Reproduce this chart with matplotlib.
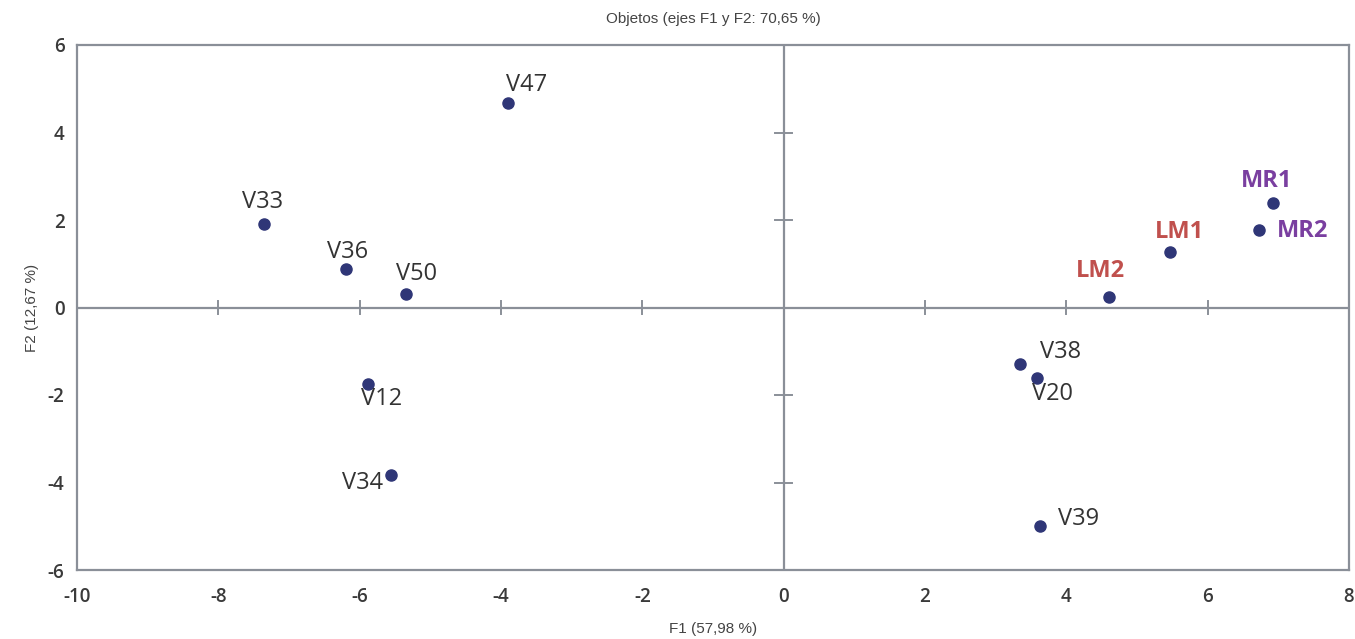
import matplotlib
matplotlib.use("Agg")
import matplotlib.pyplot as plt

plt.rcParams["axes.unicode_minus"] = False

names = ["V47", "V33", "V36", "V50", "V12", "V34", "V38", "V20", "V39", "LM2", "LM1", "MR1", "MR2"]
f1 = [-3.90, -7.36, -6.19, -5.35, -5.88, -5.55, 3.35, 3.59, 3.63, 4.60, 5.47, 6.92, 6.72]
f2 = [4.67, 1.92, 0.87, 0.30, -1.74, -3.82, -1.28, -1.62, -4.99, 0.25, 1.26, 2.38, 1.78]
xticks = [-10, -8, -6, -4, -2, 0, 2, 4, 6, 8]
yticks = [-6, -4, -2, 0, 2, 4, 6]

label_colors = {"LM1": "#c0504d", "LM2": "#c0504d", "MR1": "#7a3fa0", "MR2": "#7a3fa0"}
# label offsets in pixels (dx, dy, ha, va)
offsets = {
    "V47": (-2, 6, "left", "bottom"),
    "V33": (-1, 9, "center", "bottom"),
    "V36": (1, 5, "center", "bottom"),
    "V50": (-10, 8, "left", "bottom"),
    "V12": (-7, -3, "left", "top"),
    "V34": (-8, -8, "right", "center"),
    "V38": (20, 11, "left", "center"),
    "V20": (-5, -4, "left", "top"),
    "V39": (18, 7, "left", "center"),
    "LM2": (-8, 14, "center", "bottom"),
    "LM1": (9, 8, "center", "bottom"),
    "MR1": (-6, 10, "center", "bottom"),
    "MR2": (18, -1, "left", "center"),
}

fig = plt.figure(figsize=(13.55, 6.39), dpi=100)
ax = fig.add_axes([77/1355, 1-570/639, (1349-77)/1355, (570-45)/639])
ax.set_xlim(-10, 8)
ax.set_ylim(-6, 6)

for s in ax.spines.values():
    s.set_color("#8a8f98")
    s.set_linewidth(1.6)

ax.axhline(0, color="#8a8f98", lw=1.6, zorder=1)
ax.axvline(0, color="#8a8f98", lw=1.6, zorder=1)
# crossing tick marks on zero axes
for xt in xticks[1:-1]:
    if xt != 0:
        ax.plot([xt, xt], [-0.15, 0.15], color="#8a8f98", lw=1.4, zorder=1)
for yt in yticks[1:-1]:
    if yt != 0:
        ax.plot([-0.12, 0.12], [yt, yt], color="#8a8f98", lw=1.4, zorder=1)

ax.set_xticks(xticks)
ax.set_yticks(yticks)
ax.tick_params(axis="x", length=0, pad=12, labelsize=13.5, labelcolor="#3a3a3a")
ax.tick_params(axis="y", length=0, pad=9, labelsize=13.5, labelcolor="#3a3a3a")
for lab in ax.get_xticklabels() + ax.get_yticklabels():
    lab.set_family("Open Sans")
    lab.set_fontweight("semibold")

ax.scatter(f1, f2, s=64, color="#2f3677", zorder=3)

for n, x, y in zip(names, f1, f2):
    dx, dy, ha, va = offsets[n]
    color = label_colors.get(n, "#333333")
    weight = "bold" if n in label_colors else "normal"
    ax.annotate(n, (x, y), xytext=(dx, dy), textcoords="offset pixels",
                ha=ha, va=va, fontsize=17, color=color, family="Open Sans",
                fontweight=weight, zorder=4)

ax.set_xlabel("F1 (57,98 %)", family="Liberation Sans", fontsize=11, color="#444444", labelpad=11)
ax.set_ylabel("F2 (12,67 %)", family="Liberation Sans", fontsize=11, color="#444444", labelpad=6)
ax.set_title("Objetos (ejes F1 y F2: 70,65 %)", family="Liberation Sans", fontsize=11, color="#444444", pad=16)

fig.savefig("out.png", dpi=100, facecolor="white")
